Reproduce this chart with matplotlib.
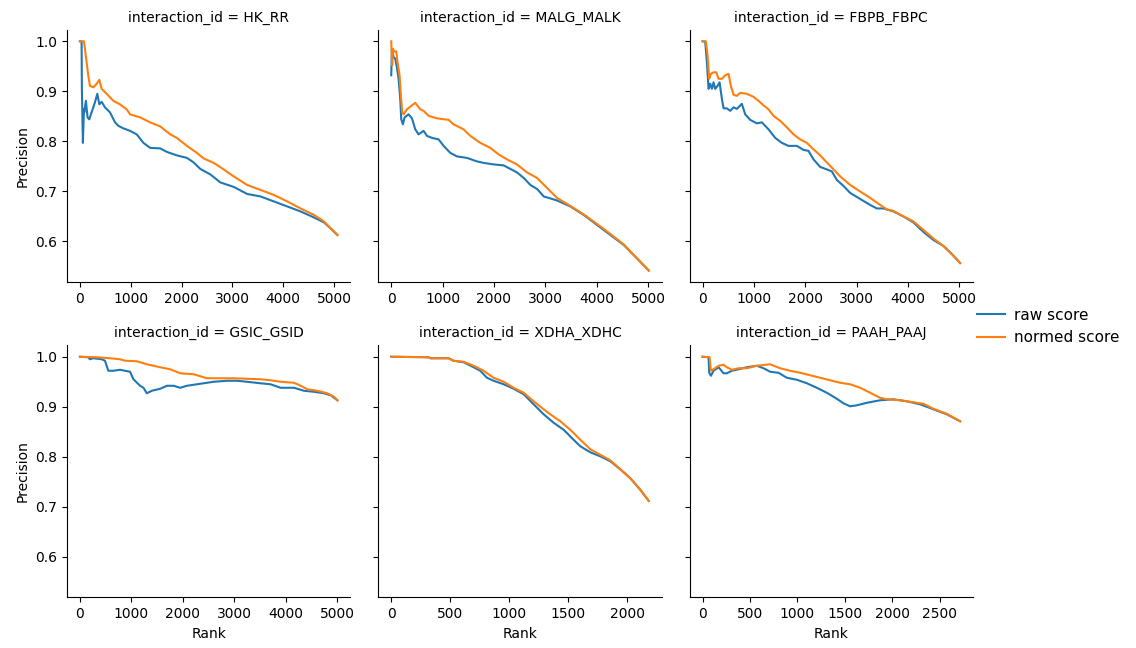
import matplotlib
matplotlib.use("Agg")
import matplotlib.pyplot as plt

panels = ["HK_RR", "MALG_MALK", "FBPB_FBPC", "GSIC_GSID", "XDHA_XDHC", "PAAH_PAAJ"]
series_names = ["raw score", "normed score"]

# ---- HK_RR ----
hk_raw_rank = [0, 33, 39, 59, 79, 86, 118, 151, 184, 230, 296, 342, 382, 428, 493, 592, 691, 757, 855, 987,
               1118, 1250, 1382, 1579, 1711, 1908, 2105, 2237, 2368, 2566, 2763, 3026, 3289, 3553, 3816,
               4079, 4342, 4605, 4803, 4934, 5066]
hk_raw_prec = [1.0, 1.0, 0.905, 0.797, 0.864, 0.858, 0.881, 0.848, 0.844, 0.858, 0.878, 0.895, 0.874, 0.879,
               0.868, 0.858, 0.838, 0.831, 0.826, 0.821, 0.814, 0.797, 0.787, 0.786, 0.779, 0.772, 0.767,
               0.758, 0.745, 0.734, 0.718, 0.709, 0.695, 0.690, 0.680, 0.670, 0.660, 0.648, 0.638, 0.626, 0.613]
hk_norm_rank = [0, 79, 99, 132, 164, 197, 263, 329, 382, 428, 526, 658, 789, 921, 987, 1184, 1382, 1579,
                1776, 1908, 2105, 2303, 2434, 2632, 2829, 3026, 3289, 3553, 3816, 4079, 4342, 4605, 4803,
                4934, 5066]
hk_norm_prec = [1.0, 1.0, 0.985, 0.958, 0.932, 0.911, 0.908, 0.915, 0.923, 0.905, 0.895, 0.881, 0.874, 0.864,
                0.854, 0.848, 0.838, 0.830, 0.814, 0.807, 0.791, 0.777, 0.766, 0.757, 0.744, 0.730, 0.713,
                0.703, 0.693, 0.680, 0.666, 0.653, 0.640, 0.626, 0.613]

# ---- MALG_MALK ----
malg_raw_rank = [0, 13, 45, 78, 110, 143, 175, 195, 227, 260, 338, 403, 468, 532, 630, 695, 792, 922, 1020,
                 1149, 1279, 1474, 1669, 1799, 1994, 2188, 2318, 2448, 2578, 2708, 2838, 2968, 3227, 3487,
                 3747, 4007, 4266, 4526, 4786, 5013]
malg_raw_prec = [0.932, 0.985, 0.968, 0.965, 0.948, 0.925, 0.885, 0.844, 0.834, 0.848, 0.854, 0.846, 0.824,
                 0.814, 0.821, 0.811, 0.807, 0.804, 0.791, 0.777, 0.770, 0.767, 0.760, 0.757, 0.754, 0.752,
                 0.745, 0.738, 0.727, 0.713, 0.705, 0.690, 0.682, 0.670, 0.653, 0.633, 0.613, 0.593, 0.566, 0.542]
malg_norm_rank = [0, 19, 32, 58, 97, 123, 162, 188, 214, 240, 305, 403, 468, 565, 630, 727, 890, 1117, 1214,
                  1409, 1539, 1734, 1929, 2091, 2253, 2448, 2643, 2838, 3033, 3227, 3487, 3747, 4007, 4266,
                  4526, 4786, 5013]
malg_norm_prec = [1.0, 0.952, 0.985, 0.979, 0.980, 0.958, 0.932, 0.891, 0.858, 0.854, 0.864, 0.872, 0.877,
                  0.864, 0.861, 0.851, 0.846, 0.843, 0.834, 0.824, 0.811, 0.797, 0.787, 0.774, 0.764, 0.754,
                  0.738, 0.727, 0.707, 0.687, 0.671, 0.654, 0.635, 0.615, 0.594, 0.566, 0.542]

# ---- FBPB_FBPC ----
fbp_raw_rank = [0, 52, 84, 117, 149, 182, 214, 246, 292, 331, 376, 409, 473, 538, 603, 668, 765, 830, 927,
                1057, 1154, 1284, 1414, 1543, 1673, 1835, 1965, 2062, 2160, 2289, 2419, 2516, 2613, 2743,
                2873, 3067, 3262, 3392, 3521, 3716, 3910, 4105, 4300, 4494, 4689, 4851, 5013]
fbp_raw_prec = [1.0, 0.999, 0.958, 0.905, 0.915, 0.905, 0.918, 0.905, 0.911, 0.918, 0.885, 0.866, 0.866,
                0.861, 0.868, 0.865, 0.875, 0.854, 0.843, 0.836, 0.838, 0.824, 0.807, 0.797, 0.791, 0.791,
                0.783, 0.781, 0.764, 0.749, 0.744, 0.740, 0.723, 0.711, 0.697, 0.685, 0.673, 0.666, 0.666,
                0.660, 0.650, 0.638, 0.619, 0.603, 0.591, 0.575, 0.557]
fbp_norm_rank = [0, 65, 97, 130, 162, 214, 266, 311, 376, 441, 506, 551, 603, 668, 733, 862, 992, 1089, 1187,
                 1284, 1381, 1511, 1641, 1770, 1900, 2030, 2160, 2289, 2419, 2549, 2678, 2873, 3067, 3262,
                 3457, 3586, 3716, 3910, 4105, 4300, 4494, 4689, 4851, 5013]
fbp_norm_prec = [1.0, 1.0, 0.972, 0.925, 0.935, 0.938, 0.938, 0.925, 0.925, 0.932, 0.935, 0.911, 0.893,
                 0.891, 0.897, 0.895, 0.889, 0.881, 0.872, 0.864, 0.851, 0.841, 0.828, 0.814, 0.804, 0.797,
                 0.784, 0.772, 0.758, 0.744, 0.730, 0.713, 0.700, 0.687, 0.673, 0.664, 0.661, 0.650, 0.640,
                 0.623, 0.606, 0.591, 0.575, 0.557]

# ---- GSIC_GSID ----
gsi_raw_rank = [0, 162, 195, 260, 422, 487, 552, 649, 779, 877, 974, 1039, 1169, 1234, 1299, 1396, 1558,
                1688, 1818, 1948, 2078, 2338, 2597, 2857, 3052, 3247, 3506, 3701, 3896, 4156, 4351, 4545,
                4740, 4870, 5000]
gsi_raw_prec = [1.0, 0.999, 0.995, 0.997, 0.995, 0.992, 0.972, 0.972, 0.974, 0.972, 0.970, 0.955, 0.942,
                0.938, 0.927, 0.932, 0.936, 0.942, 0.942, 0.938, 0.942, 0.946, 0.950, 0.952, 0.952, 0.950,
                0.947, 0.945, 0.938, 0.938, 0.932, 0.930, 0.927, 0.923, 0.913]
gsi_norm_rank = [0, 325, 584, 779, 877, 1104, 1299, 1558, 1753, 1948, 2208, 2468, 2727, 2987, 3247, 3506,
                 3701, 3896, 4156, 4286, 4416, 4610, 4805, 4935, 5000]
gsi_norm_prec = [1.0, 0.999, 0.997, 0.995, 0.992, 0.991, 0.985, 0.979, 0.975, 0.967, 0.965, 0.957, 0.957,
                 0.957, 0.956, 0.955, 0.953, 0.950, 0.948, 0.942, 0.935, 0.932, 0.927, 0.920, 0.913]

# ---- XDHA_XDHC ----
xdh_raw_rank = [0, 316, 331, 486, 528, 613, 698, 754, 811, 867, 952, 1037, 1122, 1206, 1291, 1376, 1461,
                1545, 1602, 1687, 1771, 1856, 1941, 2026, 2110, 2181]
xdh_raw_prec = [1.0, 0.999, 0.997, 0.997, 0.992, 0.989, 0.979, 0.972, 0.958, 0.952, 0.945, 0.936, 0.925,
                0.905, 0.885, 0.868, 0.854, 0.834, 0.821, 0.809, 0.801, 0.791, 0.775, 0.757, 0.734, 0.712]
xdh_norm_rank = [0, 316, 331, 486, 528, 613, 698, 782, 867, 952, 1037, 1122, 1206, 1291, 1347, 1432, 1517,
                 1602, 1687, 1771, 1856, 1941, 2026, 2110, 2181]
xdh_norm_prec = [1.0, 0.999, 0.997, 0.997, 0.992, 0.990, 0.982, 0.972, 0.958, 0.950, 0.938, 0.928, 0.911,
                 0.895, 0.885, 0.871, 0.854, 0.834, 0.815, 0.804, 0.793, 0.775, 0.757, 0.734, 0.712]

# ---- PAAH_PAAJ ----
paa_raw_rank = [0, 63, 70, 88, 116, 169, 221, 256, 309, 379, 467, 572, 643, 713, 800, 888, 994, 1099, 1204,
                1310, 1415, 1485, 1555, 1626, 1731, 1871, 2012, 2152, 2293, 2433, 2574, 2644, 2714]
paa_raw_prec = [1.0, 0.999, 0.968, 0.962, 0.972, 0.979, 0.967, 0.967, 0.972, 0.975, 0.979, 0.982, 0.977,
                0.970, 0.968, 0.958, 0.954, 0.947, 0.938, 0.928, 0.916, 0.907, 0.901, 0.903, 0.908, 0.913,
                0.915, 0.911, 0.905, 0.895, 0.885, 0.878, 0.871]
paa_norm_rank = [0, 74, 88, 116, 169, 221, 256, 309, 379, 467, 572, 713, 818, 923, 1029, 1134, 1239, 1345,
                 1450, 1555, 1661, 1766, 1871, 1942, 2082, 2223, 2328, 2433, 2574, 2714]
paa_norm_prec = [1.0, 0.999, 0.972, 0.975, 0.982, 0.984, 0.979, 0.974, 0.977, 0.977, 0.982, 0.985, 0.977,
                 0.972, 0.968, 0.963, 0.958, 0.953, 0.948, 0.945, 0.938, 0.928, 0.918, 0.915, 0.913, 0.909,
                 0.906, 0.896, 0.886, 0.871]

raw_data = [(hk_raw_rank, hk_raw_prec), (malg_raw_rank, malg_raw_prec), (fbp_raw_rank, fbp_raw_prec),
            (gsi_raw_rank, gsi_raw_prec), (xdh_raw_rank, xdh_raw_prec), (paa_raw_rank, paa_raw_prec)]
norm_data = [(hk_norm_rank, hk_norm_prec), (malg_norm_rank, malg_norm_prec), (fbp_norm_rank, fbp_norm_prec),
             (gsi_norm_rank, gsi_norm_prec), (xdh_norm_rank, xdh_norm_prec), (paa_norm_rank, paa_norm_prec)]

plt.rcParams["font.family"] = ["DejaVu Sans"]
plt.rcParams["font.size"] = 10

fig, axes = plt.subplots(2, 3, figsize=(11.36, 6.48), dpi=100, sharey=True)
fig.subplots_adjust(left=0.059, right=0.8565, top=0.954, bottom=0.078, wspace=0.099, hspace=0.251)

colors = ["#1f77b4", "#ff7f0e"]
handles = []
for i, ax in enumerate(axes.flat):
    r = raw_data[i]
    n = norm_data[i]
    h1, = ax.plot(r[0], r[1], color=colors[0], lw=1.5, label=series_names[0])
    h2, = ax.plot(n[0], n[1], color=colors[1], lw=1.5, label=series_names[1])
    if i == 0:
        handles = [h1, h2]
    ax.set_title(f"interaction_id = {panels[i]}", fontsize=10)
    for s in ["top", "right"]:
        ax.spines[s].set_visible(False)
    if i % 3 == 0:
        ax.set_ylabel("Precision")
    if i >= 3:
        ax.set_xlabel("Rank")

axes[0, 0].set_yticks([0.6, 0.7, 0.8, 0.9, 1.0])
axes[0, 2].set_xticks([0, 1000, 2000, 3000, 4000, 5000])

fig.legend(handles, series_names, loc="center left", bbox_to_anchor=(0.848, 0.496), frameon=False,
           fontsize=11, handlelength=1.8, handletextpad=0.6)

fig.savefig("out.png", dpi=100)
